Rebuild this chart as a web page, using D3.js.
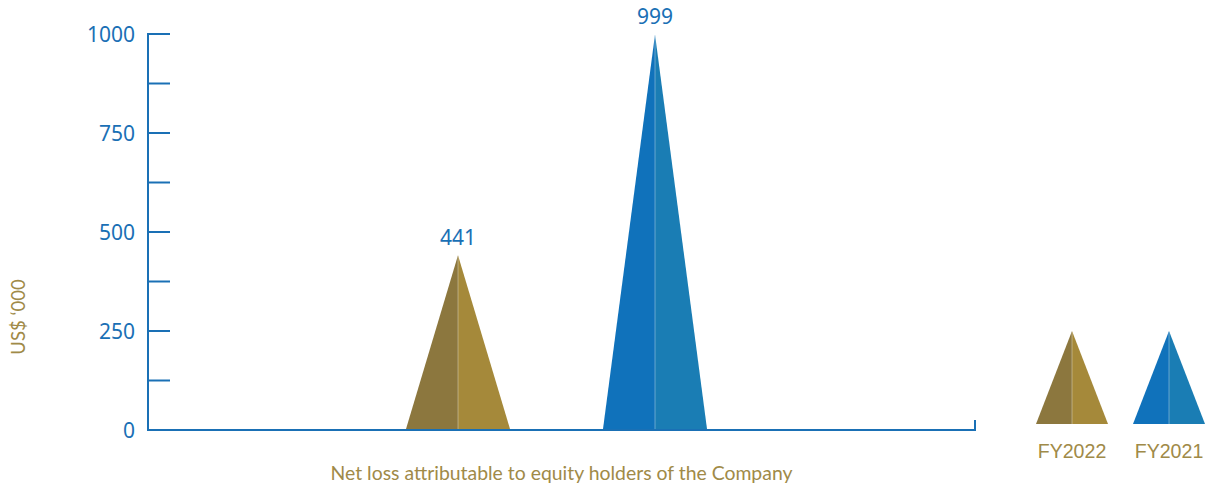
<!DOCTYPE html>
<html>
<head>
<meta charset="utf-8">
<script src="https://cdn.jsdelivr.net/npm/d3@7"></script>
<style>
  body { margin: 0; background: #fff; }
  svg { display: block; }
</style>
</head>
<body>
<script>
// data
const categories = ["Net loss attributable to equity holders of the Company"];
const series = ["FY2022", "FY2021"];
const values = [441, 999];
const yTicks = [0, 250, 500, 750, 1000];
const yMinorTicks = [125, 375, 625, 875];

const W = 1212, H = 488;
const blue = "#1a70b5";
const gold = "#a08a48";
const colors = {
  FY2022: ["#8c773e", "#a5893a"],
  FY2021: ["#1072bb", "#1a7db4"]
};

const svg = d3.select("body").append("svg")
  .attr("width", W).attr("height", H);

const plotLeft = 148, plotRight = 975, plotTop = 34, plotBottom = 430;

const y = d3.scaleLinear().domain([0, 1000]).range([plotBottom, plotTop]);
const x0 = d3.scaleBand().domain(categories).range([plotLeft, plotRight]);
const mid = x0(categories[0]) + x0.bandwidth() / 2;
const x1 = d3.scalePoint().domain(series).range([mid - 103.5, mid + 93.5]);
const halfW = 52;

// y axis ticks (pointing inward)
const g = svg.append("g");
g.append("line")
  .attr("x1", plotLeft).attr("x2", plotLeft)
  .attr("y1", y(1000) - 1).attr("y2", plotBottom + 1)
  .attr("stroke", blue).attr("stroke-width", 2);

g.selectAll(".tick").data(yTicks.concat(yMinorTicks)).enter().append("line")
  .attr("x1", plotLeft).attr("x2", plotLeft + 22)
  .attr("y1", d => y(d)).attr("y2", d => y(d))
  .attr("stroke", blue).attr("stroke-width", 2);

g.selectAll(".tl").data(yTicks).enter().append("text")
  .attr("x", plotLeft - 13).attr("y", d => y(d) + 8)
  .attr("text-anchor", "end")
  .attr("font-family", "Noto Sans, sans-serif")
  .attr("font-size", 21)
  .attr("fill", blue)
  .text(d => d);

// x axis with small upturn at the end
g.append("path")
  .attr("d", `M${plotLeft},${plotBottom}H${plotRight}V${plotBottom - 10}`)
  .attr("fill", "none").attr("stroke", blue).attr("stroke-width", 2);

// triangles
const tri = svg.append("g");
series.forEach((s, i) => {
  const cx = x1(s), ty = y(values[i]);
  tri.append("path")
    .attr("d", `M${cx - halfW},${plotBottom - 1}L${cx},${ty}L${cx},${plotBottom - 1}Z`)
    .attr("fill", colors[s][0]);
  tri.append("path")
    .attr("d", `M${cx},${plotBottom - 1}L${cx},${ty}L${cx + halfW},${plotBottom - 1}Z`)
    .attr("fill", colors[s][1]);
  tri.append("line")
    .attr("x1", cx).attr("x2", cx).attr("y1", ty + 2).attr("y2", plotBottom - 1)
    .attr("stroke", "#ffffff").attr("stroke-opacity", 0.35).attr("stroke-width", 1);
  tri.append("text")
    .attr("x", cx).attr("y", ty - 10)
    .attr("text-anchor", "middle")
    .attr("font-family", "Noto Sans, sans-serif")
    .attr("font-size", 21)
    .attr("fill", blue)
    .text(values[i]);
});

// axis titles
svg.append("text")
  .attr("transform", "translate(25,317) rotate(-90)")
  .attr("text-anchor", "middle")
  .attr("font-family", "Lato, sans-serif")
  .attr("font-size", 18.5)
  .attr("fill", gold)
  .text("US$ \u2018000");

svg.append("text")
  .attr("x", mid)
  .attr("y", 480)
  .attr("text-anchor", "middle")
  .attr("font-family", "Lato, sans-serif")
  .attr("font-size", 19.4)
  .attr("fill", gold)
  .text(categories[0]);

// legend
const legend = svg.append("g");
const lx = [1072, 1169];
series.forEach((s, i) => {
  const cx = lx[i], tY = 331, bY = 424, hw = 36;
  legend.append("path")
    .attr("d", `M${cx - hw},${bY}L${cx},${tY}L${cx},${bY}Z`).attr("fill", colors[s][0]);
  legend.append("path")
    .attr("d", `M${cx},${bY}L${cx},${tY}L${cx + hw},${bY}Z`).attr("fill", colors[s][1]);
  legend.append("line")
    .attr("x1", cx).attr("x2", cx).attr("y1", tY + 2).attr("y2", bY)
    .attr("stroke", "#fff").attr("stroke-opacity", 0.35);
  legend.append("text")
    .attr("x", cx).attr("y", 458)
    .attr("text-anchor", "middle")
    .attr("font-family", "Liberation Sans, Arial, sans-serif")
    .attr("font-size", 19.6)
    .attr("fill", gold)
    .text(s);
});
</script>
</body>
</html>
